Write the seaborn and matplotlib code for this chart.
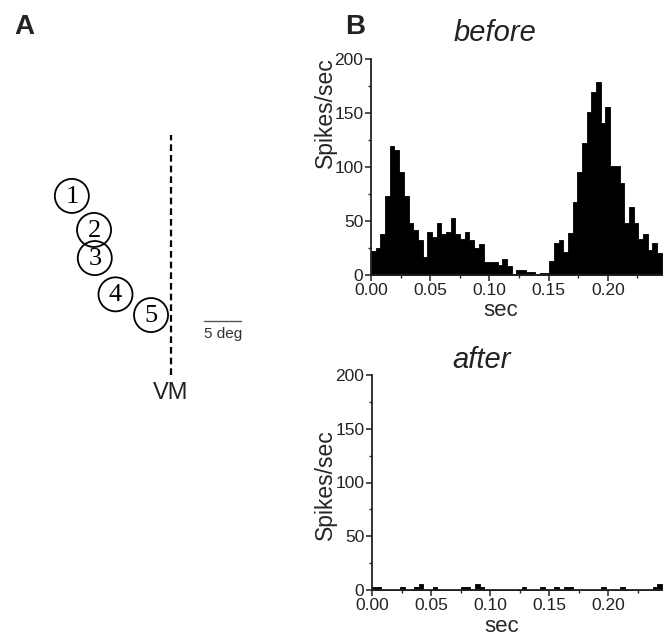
import numpy as np
import matplotlib
matplotlib.use("Agg")
import matplotlib.pyplot as plt
from matplotlib.patches import Circle
from matplotlib.ticker import MultipleLocator
import seaborn as sns

# PSTH data: 62 bins spanning 0 .. 0.2455 s, rates in spikes/sec
bin_count = 62
t_max = 0.2455
rate_before = [22, 25, 38, 73, 119, 116, 95, 73, 48, 42,
               32, 17, 40, 35, 48, 38, 40, 53, 38, 33,
               40, 32, 25, 29, 12, 12, 12, 9, 15, 8,
               1, 5, 5, 3, 3, 1, 2, 2, 13, 30,
               32, 21, 39, 68, 95, 122, 151, 169, 179, 141,
               156, 101, 101, 85, 48, 63, 48, 33, 38, 23,
               30, 20]
# after: only a few isolated spikes
after_bins = [0, 1, 6, 9, 10, 13, 19, 20, 22, 23, 32, 36, 39, 41, 42, 49, 53, 60, 61]
after_rate = [3, 3, 3, 3, 6, 3, 3, 3, 6, 3, 3, 3, 3, 3, 3, 3, 3, 3, 6]

# Panel A: receptive field positions (deg, relative to vertical meridian)
rf_labels = ["1", "2", "3", "4", "5"]
rf_x = [-13.4, -10.4, -10.3, -7.5, -2.7]
rf_y = [24.2, 19.6, 15.8, 10.9, 8.1]
rf_radius = 2.3
vm_top = 32.4
scale_deg = 5

sns.set_theme(style="ticks")
plt.rcParams["font.family"] = ["Liberation Sans", "DejaVu Sans"]
plt.rcParams["text.color"] = "#222222"

fig = plt.figure(figsize=(6.67, 6.41), dpi=100)

# ---- Panel A
px_per_deg = 7.4
ax_a = fig.add_axes([0, 0, 300 / 667, 1])
ax_a.set_xlim(-171 / px_per_deg, 129 / px_per_deg)
ax_a.set_ylim((375 - 641) / px_per_deg, 375 / px_per_deg)
ax_a.axis("off")
ax_a.plot([0, 0], [0, vm_top], color="black", lw=1.6, ls=(0, (3, 1.8)))
ax_a.text(0, -2.5, "VM", ha="center", va="center", fontsize=17, color="#222222")
for lab, x, y in zip(rf_labels, rf_x, rf_y):
    ax_a.add_patch(Circle((x, y), rf_radius, fill=False, ec="black", lw=1.3))
    ax_a.text(x, y - 0.1, lab, ha="center", va="center", fontsize=19,
              family=["Liberation Serif", "DejaVu Serif"], color="black")
ax_a.plot([4.5, 4.5 + scale_deg], [7.3, 7.3], color="#555555", lw=1.0)
ax_a.text(7.1, 5.5, "5 deg", ha="center", va="center", fontsize=11, color="#333333")


def psth(ax, rates, title_xy, title):
    centers = (np.arange(bin_count) + 0.5) * t_max / bin_count
    sns.histplot(x=centers, weights=rates, bins=bin_count, binrange=(0, t_max),
                 element="step", fill=True, color="black", alpha=1, linewidth=0.6,
                 ax=ax)
    ax.set_xlim(0, t_max)
    ax.set_ylim(0, 200)
    ax.set_xticks([0, 0.05, 0.10, 0.15, 0.20])
    ax.set_xticklabels(["0.00", "0.05", "0.10", "0.15", "0.20"])
    ax.xaxis.set_minor_locator(MultipleLocator(0.025))
    ax.set_yticks([0, 50, 100, 150, 200])
    ax.yaxis.set_minor_locator(MultipleLocator(25))
    ax.tick_params(which="major", length=4, width=1.1, labelsize=12.5, pad=1.5,
                   colors="#222222")
    ax.tick_params(which="minor", length=2.5, width=1.0)
    for s in ["left", "bottom"]:
        ax.spines[s].set_linewidth(1.3)
        ax.spines[s].set_color("#222222")
    sns.despine(ax=ax)
    ax.set_xlabel("sec", fontsize=16)
    ax.set_ylabel("Spikes/sec", fontsize=16.5)
    fig.text(title_xy[0] / 667, 1 - title_xy[1] / 641, title, ha="center", va="center",
             fontsize=21, style="italic")


ax_b1 = fig.add_axes([371 / 667, 1 - 275 / 641, 290.7 / 667, 216 / 641])
psth(ax_b1, rate_before, (495, 33), "before")
ax_b1.xaxis.set_label_coords((501 - 371) / 290.7, (275 - 310) / 216)
ax_b1.xaxis.label.set_va("center")
ax_b1.yaxis.set_label_coords((325 - 371) / 290.7, (275 - 113) / 216)
ax_b1.yaxis.label.set_va("center")

rate_after = np.zeros(bin_count)
rate_after[after_bins] = after_rate
ax_b2 = fig.add_axes([372 / 667, 1 - 590 / 641, 290 / 667, 215 / 641])
psth(ax_b2, rate_after, (482, 360), "after")
ax_b2.xaxis.set_label_coords((502 - 372) / 290, (590 - 627) / 215)
ax_b2.xaxis.label.set_va("center")
ax_b2.yaxis.set_label_coords((325 - 372) / 290, (590 - 485) / 215)
ax_b2.yaxis.label.set_va("center")

fig.text(24 / 667, 1 - 27 / 641, "A", fontsize=20, weight="bold", ha="center", va="center")
fig.text(355 / 667, 1 - 27 / 641, "B", fontsize=20, weight="bold", ha="center", va="center")

fig.savefig("out.png", dpi=100)
